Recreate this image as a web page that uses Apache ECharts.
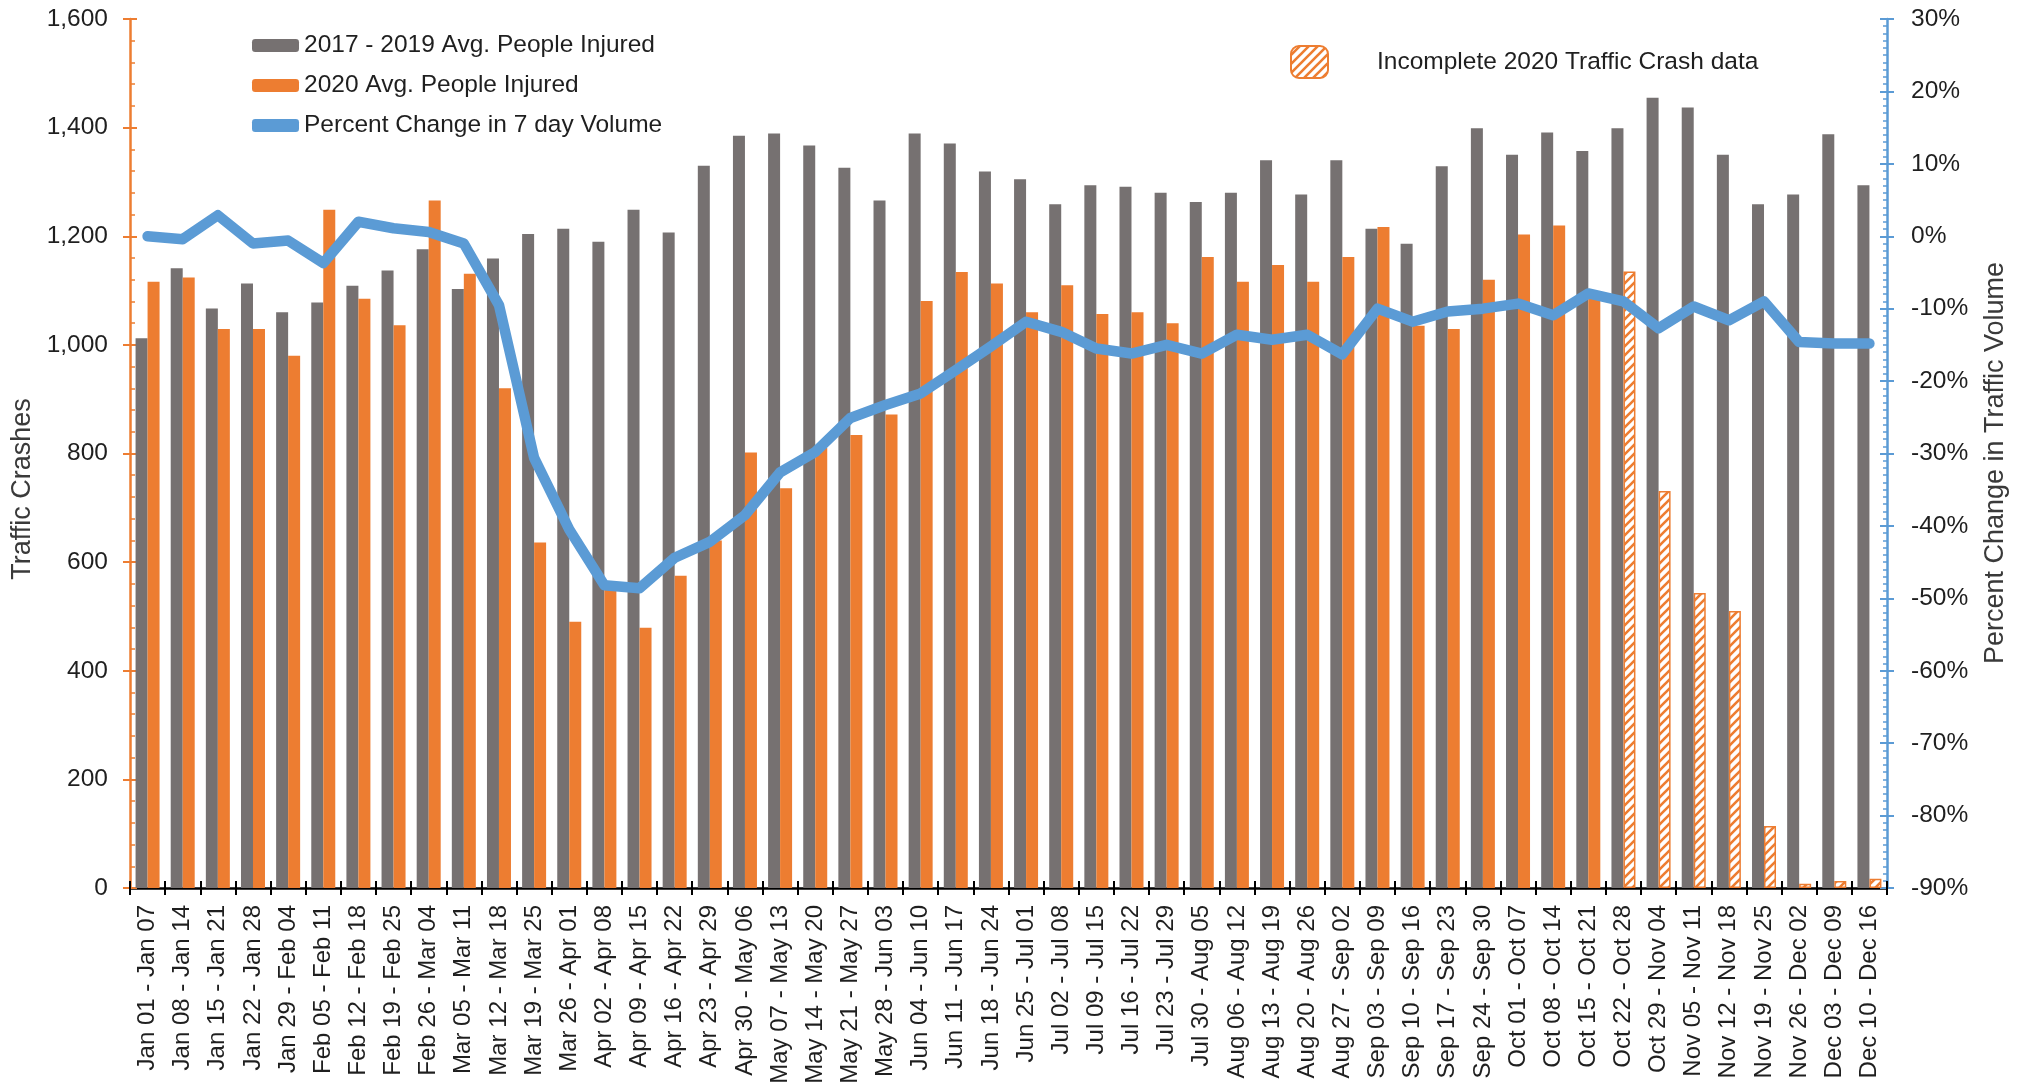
<!DOCTYPE html>
<html>
<head>
<meta charset="utf-8">
<title>Traffic Crashes 2020</title>
<script src="https://cdn.jsdelivr.net/npm/echarts@6/dist/echarts.min.js"></script>
<style>
  html, body { margin: 0; padding: 0; background: #fff; }
  #chart { width: 2019px; height: 1089px; }
</style>
</head>
<body>
<div id="chart"></div>
<script>
// Weekly periods
const weeks = [
  'Jan 01 - Jan 07', 'Jan 08 - Jan 14', 'Jan 15 - Jan 21', 'Jan 22 - Jan 28', 'Jan 29 - Feb 04',
  'Feb 05 - Feb 11', 'Feb 12 - Feb 18', 'Feb 19 - Feb 25', 'Feb 26 - Mar 04', 'Mar 05 - Mar 11',
  'Mar 12 - Mar 18', 'Mar 19 - Mar 25', 'Mar 26 - Apr 01', 'Apr 02 - Apr 08', 'Apr 09 - Apr 15',
  'Apr 16 - Apr 22', 'Apr 23 - Apr 29', 'Apr 30 - May 06', 'May 07 - May 13', 'May 14 - May 20',
  'May 21 - May 27', 'May 28 - Jun 03', 'Jun 04 - Jun 10', 'Jun 11 - Jun 17', 'Jun 18 - Jun 24',
  'Jun 25 - Jul 01', 'Jul 02 - Jul 08', 'Jul 09 - Jul 15', 'Jul 16 - Jul 22', 'Jul 23 - Jul 29',
  'Jul 30 - Aug 05', 'Aug 06 - Aug 12', 'Aug 13 - Aug 19', 'Aug 20 - Aug 26', 'Aug 27 - Sep 02',
  'Sep 03 - Sep 09', 'Sep 10 - Sep 16', 'Sep 17 - Sep 23', 'Sep 24 - Sep 30', 'Oct 01 - Oct 07',
  'Oct 08 - Oct 14', 'Oct 15 - Oct 21', 'Oct 22 - Oct 28', 'Oct 29 - Nov 04', 'Nov 05 - Nov 11',
  'Nov 12 - Nov 18', 'Nov 19 - Nov 25', 'Nov 26 - Dec 02', 'Dec 03 - Dec 09', 'Dec 10 - Dec 16'
];

// 2017 - 2019 average people injured per week
const avgInjured2017to2019 = [
  1012, 1141, 1067, 1113, 1060, 1078, 1109, 1137, 1176, 1103,
  1159, 1204, 1214, 1190, 1249, 1207, 1330, 1385, 1389, 1367,
  1326, 1266, 1389, 1371, 1319, 1305, 1259, 1294, 1291, 1280,
  1263, 1280, 1340, 1277, 1340, 1214, 1186, 1329, 1399, 1350,
  1391, 1357, 1399, 1455, 1437, 1350, 1259, 1277, 1388, 1294
];

// 2020 average people injured per week
const avgInjured2020 = [
  1116, 1124, 1029, 1029, 980, 1249, 1085, 1036, 1266, 1131,
  920, 636, 490, 560, 479, 575, 640, 802, 736, 810,
  834, 872, 1081, 1134, 1113, 1060, 1110, 1057, 1060, 1040,
  1162, 1116, 1147, 1116, 1162, 1217, 1035, 1029, 1120, 1203,
  1220, 1085, 1135, 731, 543, 510, 114, 8, 13, 17
];

// Weeks whose 2020 crash data is still incomplete
const incomplete2020 = [
  false, false, false, false, false, false, false, false, false, false,
  false, false, false, false, false, false, false, false, false, false,
  false, false, false, false, false, false, false, false, false, false,
  false, false, false, false, false, false, false, false, false, false,
  false, false, true, true, true, true, true, true, true, true
];

// Percent change in 7 day traffic volume
const volumeChangePct = [
  0.0, -0.4, 2.9, -1.0, -0.6, -3.7, 2.0, 1.1, 0.6, -1.0,
  -9.5, -30.6, -40.5, -48.2, -48.6, -44.4, -42.2, -38.5, -32.6, -29.8,
  -25.1, -23.3, -21.7, -18.5, -15.2, -11.8, -13.2, -15.5, -16.2, -15.0,
  -16.2, -13.6, -14.3, -13.6, -16.3, -10.0, -11.8, -10.4, -10.0, -9.3,
  -10.9, -7.9, -9.0, -12.7, -9.7, -11.6, -9.0, -14.6, -14.8, -14.8
];

const GRAY = '#767171';
const ORANGE = '#ED7D31';
const BLUE = '#5B9BD5';
const TEXT = '#1f1f1f';
const FONT = '"Liberation Sans", Arial, sans-serif';

// Diagonal hatch tile used for the incomplete weeks
function makeHatch() {
  const s = 9;
  const c = document.createElement('canvas');
  c.width = s; c.height = s;
  const g = c.getContext('2d');
  g.fillStyle = '#ffffff';
  g.fillRect(0, 0, s, s);
  g.strokeStyle = ORANGE;
  g.lineWidth = 2.6;
  g.beginPath();
  g.moveTo(-2, s + 2); g.lineTo(s + 2, -2);
  g.moveTo(-2, 2); g.lineTo(2, -2);
  g.moveTo(s - 2, s + 2); g.lineTo(s + 2, s - 2);
  g.stroke();
  return c;
}
const hatch = { image: makeHatch(), repeat: 'repeat' };

const complete = avgInjured2020.map((v, i) => incomplete2020[i] ? '-' : v);
const partial = avgInjured2020.map((v, i) => incomplete2020[i] ? v : '-');

const chart = echarts.init(document.getElementById('chart'), null, { renderer: 'canvas' });

const leftScale = { type: 'value', min: 0, max: 1600, interval: 200 };
const rightScale = { type: 'value', min: -90, max: 30, interval: 10 };

chart.setOption({
  animation: false,
  backgroundColor: '#ffffff',
  grid: { left: 130, right: 132, top: 19, bottom: 201, containLabel: false },
  legend: [
    {
      data: [
        { name: '2017 - 2019 Avg. People Injured' },
        { name: '2020 Avg. People Injured' },
        { name: 'Percent Change in 7 day Volume', icon: 'roundRect' }
      ],
      orient: 'vertical',
      left: 247, top: 28,
      itemWidth: 47, itemHeight: 13, itemGap: 15,
      selectedMode: false,
      textStyle: { fontSize: 24.5, fontFamily: FONT, color: TEXT }
    },
    {
      data: ['Incomplete 2020 Traffic Crash data'],
      left: 1285, top: 40,
      itemWidth: 37, itemHeight: 32,
      selectedMode: false,
      textStyle: { fontSize: 24.5, fontFamily: FONT, color: TEXT, padding: [0, 0, 0, 44] }
    }
  ],
  graphic: [
    {
      type: 'text', x: 23, y: 489, rotation: Math.PI / 2,
      style: { text: 'Traffic Crashes', fontSize: 27, fontFamily: FONT, fill: '#3a3a3a', align: 'center', verticalAlign: 'middle' }
    },
    {
      type: 'text', x: 1996, y: 463, rotation: Math.PI / 2,
      style: { text: 'Percent Change in Traffic Volume', fontSize: 27, fontFamily: FONT, fill: '#3a3a3a', align: 'center', verticalAlign: 'middle' }
    }
  ],
  xAxis: [
    {
      type: 'category', data: weeks, position: 'bottom',
      boundaryGap: true,
      axisLine: { show: true, onZero: false, lineStyle: { color: '#000', width: 2.5 } },
      axisTick: { show: true, inside: false, length: 7, interval: 0, lineStyle: { color: '#000', width: 2 } },
      axisLabel: { interval: 0, rotate: 90, margin: 17, fontSize: 24, fontFamily: FONT, color: TEXT },
      splitLine: { show: false }
    },
    {
      type: 'category', data: weeks, position: 'bottom',
      boundaryGap: true,
      axisLine: { show: false, onZero: false },
      axisTick: { show: true, inside: true, length: 7, interval: 0, lineStyle: { color: '#000', width: 2 } },
      axisLabel: { show: false },
      splitLine: { show: false }
    }
  ],
  yAxis: [
    Object.assign({}, leftScale, {
      position: 'left',
      axisLine: { show: true, onZero: false, lineStyle: { color: ORANGE, width: 2.5 } },
      axisTick: { show: true, inside: true, length: 7, lineStyle: { color: ORANGE, width: 2 } },
      minorTick: { show: true, splitNumber: 5, length: 5, lineStyle: { color: ORANGE, width: 1.5 } },
      axisLabel: {
        margin: 22, fontSize: 24.5, fontFamily: FONT, color: TEXT,
        formatter: v => v.toLocaleString('en-US')
      },
      splitLine: { show: false }
    }),
    Object.assign({}, rightScale, {
      position: 'right',
      axisLine: { show: true, onZero: false, lineStyle: { color: BLUE, width: 2.5 } },
      axisTick: { show: true, inside: true, length: 7, lineStyle: { color: BLUE, width: 2 } },
      minorTick: { show: true, splitNumber: 10, length: 4, lineStyle: { color: BLUE, width: 1.5 } },
      axisLabel: {
        margin: 24, fontSize: 24.5, fontFamily: FONT, color: TEXT,
        formatter: v => v + '%'
      },
      splitLine: { show: false }
    }),
    Object.assign({}, leftScale, {
      position: 'left',
      axisLine: { show: false, onZero: false },
      axisTick: { show: true, inside: false, length: 7, lineStyle: { color: ORANGE, width: 2 } },
      axisLabel: { show: false },
      splitLine: { show: false }
    }),
    Object.assign({}, rightScale, {
      position: 'right',
      axisLine: { show: false, onZero: false },
      axisTick: { show: true, inside: false, length: 7, lineStyle: { color: BLUE, width: 2 } },
      axisLabel: { show: false },
      splitLine: { show: false }
    })
  ],
  series: [
    {
      name: '2017 - 2019 Avg. People Injured',
      type: 'bar', xAxisIndex: 0, yAxisIndex: 0,
      data: avgInjured2017to2019,
      barWidth: 12, barGap: '0%',
      itemStyle: { color: GRAY }
    },
    {
      name: '2020 Avg. People Injured',
      type: 'bar', xAxisIndex: 0, yAxisIndex: 0, stack: 'y2020',
      data: complete,
      barWidth: 12, barGap: '0%',
      itemStyle: { color: ORANGE }
    },
    {
      name: 'Incomplete 2020 Traffic Crash data',
      type: 'bar', xAxisIndex: 0, yAxisIndex: 0, stack: 'y2020',
      data: partial,
      barWidth: 12, barGap: '0%',
      itemStyle: { color: hatch, borderColor: ORANGE, borderWidth: 1.5 }
    },
    {
      name: 'Percent Change in 7 day Volume',
      type: 'line', xAxisIndex: 0, yAxisIndex: 1,
      data: volumeChangePct,
      symbol: 'none',
      z: 5,
      itemStyle: { color: BLUE },
      lineStyle: { color: BLUE, width: 10.5, join: 'round', cap: 'round' }
    }
  ]
});
</script>
</body>
</html>
